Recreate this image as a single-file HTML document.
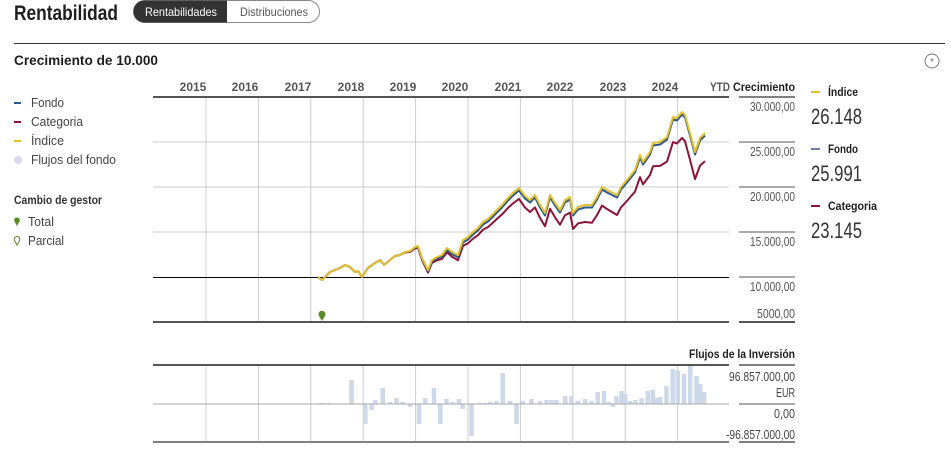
<!DOCTYPE html>
<html><head><meta charset="utf-8"><style>
html,body{margin:0;padding:0;background:#fff;width:951px;height:472px;overflow:hidden}
svg{display:block;font-family:"Liberation Sans",sans-serif}
</style></head><body>
<svg id="s" width="951" height="472" viewBox="0 0 951 472" xmlns="http://www.w3.org/2000/svg">
<text x="14" y="20" font-size="21" font-weight="bold" fill="#1e1e1e" textLength="104" lengthAdjust="spacingAndGlyphs">Rentabilidad</text>
<rect x="133.5" y="0.5" width="186" height="22" rx="11" fill="#fff" stroke="#888"/>
<path d="M144.5 0.5 H227 V22.5 H144.5 A11 11 0 0 1 144.5 0.5Z" fill="#333"/>
<text x="145" y="16" font-size="12" fill="#fff" textLength="72" lengthAdjust="spacingAndGlyphs">Rentabilidades</text>
<text x="240" y="16" font-size="12" fill="#555" textLength="68" lengthAdjust="spacingAndGlyphs">Distribuciones</text>
<line x1="14" y1="43.5" x2="945" y2="43.5" stroke="#333" stroke-width="1"/>
<text x="14" y="65" font-size="14" font-weight="bold" fill="#1e1e1e" textLength="144" lengthAdjust="spacingAndGlyphs">Crecimiento de 10.000</text>
<circle cx="932" cy="61" r="7" fill="none" stroke="#777"/>
<text x="932" y="65" font-size="10" fill="#777" text-anchor="middle">*</text>
<g font-size="13" fill="#444">
<line x1="14" y1="103" x2="21" y2="103" stroke="#2d5a87" stroke-width="2"/><text x="31" y="107" textLength="33" lengthAdjust="spacingAndGlyphs">Fondo</text>
<line x1="14" y1="122" x2="21" y2="122" stroke="#8b1538" stroke-width="2"/><text x="31" y="126" textLength="52" lengthAdjust="spacingAndGlyphs">Categoria</text>
<line x1="14" y1="141" x2="21" y2="141" stroke="#e3c12e" stroke-width="2"/><text x="31" y="145" textLength="33" lengthAdjust="spacingAndGlyphs">Índice</text>
<circle cx="18" cy="160" r="4" fill="#d5deea"/><text x="31" y="164" textLength="85" lengthAdjust="spacingAndGlyphs">Flujos del fondo</text>
<text x="14" y="204" font-size="12" font-weight="bold" fill="#333" textLength="88" lengthAdjust="spacingAndGlyphs">Cambio de gestor</text>
<path d="M17 226 L14.5 221.5 A2.8 2.8 0 1 1 19.5 221.5Z" fill="#5a8a2a"/><text x="28" y="226" textLength="26" lengthAdjust="spacingAndGlyphs">Total</text>
<path d="M17 245 L14.5 240.5 A2.8 2.8 0 1 1 19.5 240.5Z" fill="none" stroke="#5a8a2a"/><text x="28" y="245" textLength="36" lengthAdjust="spacingAndGlyphs">Parcial</text>
</g>
<g font-size="12" font-weight="bold" fill="#555" text-anchor="middle">
<text x="193" y="91">2015</text><text x="245" y="91">2016</text><text x="298" y="91">2017</text><text x="351" y="91">2018</text><text x="403" y="91">2019</text><text x="455" y="91">2020</text><text x="508" y="91">2021</text><text x="560" y="91">2022</text><text x="613" y="91">2023</text><text x="665" y="91">2024</text><text x="720" y="91" textLength="20" lengthAdjust="spacingAndGlyphs">YTD</text>
</g>
<text x="733" y="91" font-size="12" font-weight="bold" fill="#1e1e1e" textLength="62" lengthAdjust="spacingAndGlyphs">Crecimiento</text>
<g id="grid"></g>
<g stroke="#ccc"><line x1="153" y1="142" x2="729" y2="142"/><line x1="153" y1="187" x2="729" y2="187"/><line x1="153" y1="232" x2="729" y2="232"/></g>
<line x1="153" y1="277.5" x2="729" y2="277.5" stroke="#000"/>
<line x1="153" y1="97" x2="729" y2="97" stroke="#555" stroke-width="2"/>
<line x1="153" y1="322" x2="729" y2="322" stroke="#555" stroke-width="2"/>
<g stroke="#555"><line x1="739" y1="97" x2="795" y2="97" stroke-width="1.5"/><line x1="739" y1="142" x2="795" y2="142"/><line x1="739" y1="187" x2="795" y2="187"/><line x1="739" y1="232" x2="795" y2="232"/><line x1="739" y1="277" x2="795" y2="277"/><line x1="739" y1="322" x2="795" y2="322" stroke-width="2"/></g>
<g font-size="13" fill="#555" text-anchor="end">
<text x="795" y="111" textLength="45" lengthAdjust="spacingAndGlyphs">30.000,00</text><text x="795" y="156" textLength="45" lengthAdjust="spacingAndGlyphs">25.000,00</text><text x="795" y="201" textLength="45" lengthAdjust="spacingAndGlyphs">20.000,00</text><text x="795" y="246" textLength="45" lengthAdjust="spacingAndGlyphs">15.000,00</text><text x="795" y="291" textLength="45" lengthAdjust="spacingAndGlyphs">10.000,00</text><text x="795" y="318" textLength="38" lengthAdjust="spacingAndGlyphs">5000,00</text>
</g>
<g id="lines"></g>
<path d="M322 321 L319 316 A3.5 3.5 0 1 1 325 316Z" fill="#5a8a2a"/>
<g fill="#1e1e1e">
<line x1="811" y1="92" x2="820" y2="92" stroke="#e3c12e" stroke-width="2"/><text x="828" y="96" font-size="12" font-weight="bold" textLength="30" lengthAdjust="spacingAndGlyphs">Índice</text>
<text x="811" y="124" font-size="22" fill="#333" textLength="51" lengthAdjust="spacingAndGlyphs">26.148</text>
<line x1="811" y1="149" x2="820" y2="149" stroke="#2d5a87" stroke-width="1.5"/><text x="828" y="153" font-size="12" font-weight="bold" textLength="30" lengthAdjust="spacingAndGlyphs">Fondo</text>
<text x="811" y="181" font-size="22" fill="#333" textLength="51" lengthAdjust="spacingAndGlyphs">25.991</text>
<line x1="811" y1="206" x2="820" y2="206" stroke="#8b1538" stroke-width="2"/><text x="828" y="210" font-size="12" font-weight="bold" textLength="49" lengthAdjust="spacingAndGlyphs">Categoria</text>
<text x="811" y="238" font-size="22" fill="#333" textLength="51" lengthAdjust="spacingAndGlyphs">23.145</text>
</g>
<text x="795" y="358" font-size="12" font-weight="bold" fill="#1e1e1e" text-anchor="end" textLength="106" lengthAdjust="spacingAndGlyphs">Flujos de la Inversión</text>
<g id="bars"></g>
<line x1="153" y1="404" x2="729" y2="404" stroke="#aaa"/>
<line x1="153" y1="365" x2="729" y2="365" stroke="#555" stroke-width="2"/>
<line x1="153" y1="442" x2="729" y2="442" stroke="#555" stroke-width="1.5"/>
<g stroke="#555"><line x1="739" y1="365" x2="795" y2="365" stroke-width="1.5"/><line x1="739" y1="404" x2="795" y2="404"/><line x1="739" y1="442" x2="795" y2="442" stroke-width="1.5"/></g>
<g font-size="13" fill="#444" text-anchor="end">
<text x="795" y="381" textLength="66" lengthAdjust="spacingAndGlyphs">96.857.000,00</text><text x="795" y="397" textLength="19" lengthAdjust="spacingAndGlyphs">EUR</text><text x="795" y="418" textLength="21" lengthAdjust="spacingAndGlyphs">0,00</text><text x="795" y="439" textLength="69" lengthAdjust="spacingAndGlyphs">-96.857.000,00</text>
</g>
</svg>
<script>
var NS="http://www.w3.org/2000/svg";
function el(p,t,a){var e=document.createElementNS(NS,t);for(var k in a)e.setAttribute(k,a[k]);document.getElementById(p).appendChild(e);return e;}
for(var i=0;i<10;i++){var x=206+52.4*i;el("grid","line",{x1:x,y1:98,x2:x,y2:321,stroke:"#ccc"});el("bars","line",{x1:x,y1:366,x2:x,y2:441,stroke:"#ccc"});}
var P=[[318,277],[322,280],[330,272],[340,268],[345,265],[350,267],[355,272],[358,271],[362,277],[368,268],[375,263],[380,260],[384,265],[390,260],[395,256],[400,255],[405,252],[410,251],[415,247],[418,246],[422,258],[428,270],[432,260],[437,257],[442,255],[447,248],[452,252],[458,255],[463,240],[468,237],[473,232],[478,228],[483,222],[488,219],[492,215],[497,210],[502,205],[508,198],[513,193],[519,188],[525,196],[530,200],[535,195],[540,205],[545,213],[550,195],[555,203],[560,210],[565,200],[570,197],[573,213],[578,207],[585,205],[592,205],[597,197],[602,187],[607,190],[617,195],[621,187],[627,180],[635,170],[640,155],[643,162],[650,152],[653,143],[660,142],[667,137],[673,117],[677,118],[682,112],[685,115],[690,133],[695,152],[700,138],[705,133]];
function path(f){return P.map(function(p,i){return (i?"L":"M")+p[0]+" "+(p[1]+f(p[0])).toFixed(1);}).join(" ");}
function gap(x){return Math.max(0,(x-400)*0.092);}
el("lines","path",{d:path(gap),fill:"none",stroke:"#8b1538","stroke-width":2,"stroke-linejoin":"round"});
el("lines","path",{d:path(function(x){return Math.min(2.5,Math.max(0,(x-400)*0.04))}),fill:"none",stroke:"#2d5a87","stroke-width":2,"stroke-linejoin":"round"});
el("lines","path",{d:path(function(){return 0}),fill:"none",stroke:"#e3c12e","stroke-width":2,"stroke-linejoin":"round"});
var B=[[287,1],[293,1],[311,24],[322,-20],[327,-6],[330,4],[336,16],[342,2],[347,6],[352,2],[358,-3],[365,-20],[370,6],[377,16],[382,-20],[387,5],[392,2],[397,5],[400,-5],[407,-32],[413,1],[418,1],[422,2],[427,3],[432,31],[438,3],[443,-20],[448,3],[455,5],[462,3],[467,4],[471,4],[475,4],[482,8],[487,8],[492,3],[498,5],[503,3],[508,12],[513,13],[517,2],[520,-3],[523,8],[527,13],[530,10],[534,3],[538,4],[543,6],[548,13],[552,14],[555,6],[558,7],[563,18],[568,35],[572,33],[577,30],[582,38],[587,28],[590,20],[593,12]];
B.forEach(function(b){var x=150+(b[0]-150)*1.25,h=b[1];el("bars","rect",{x:x-2,y:h>0?404-h:404,width:4.5,height:Math.abs(h),fill:"#cdd9e8"});});
</script>
</body></html>
